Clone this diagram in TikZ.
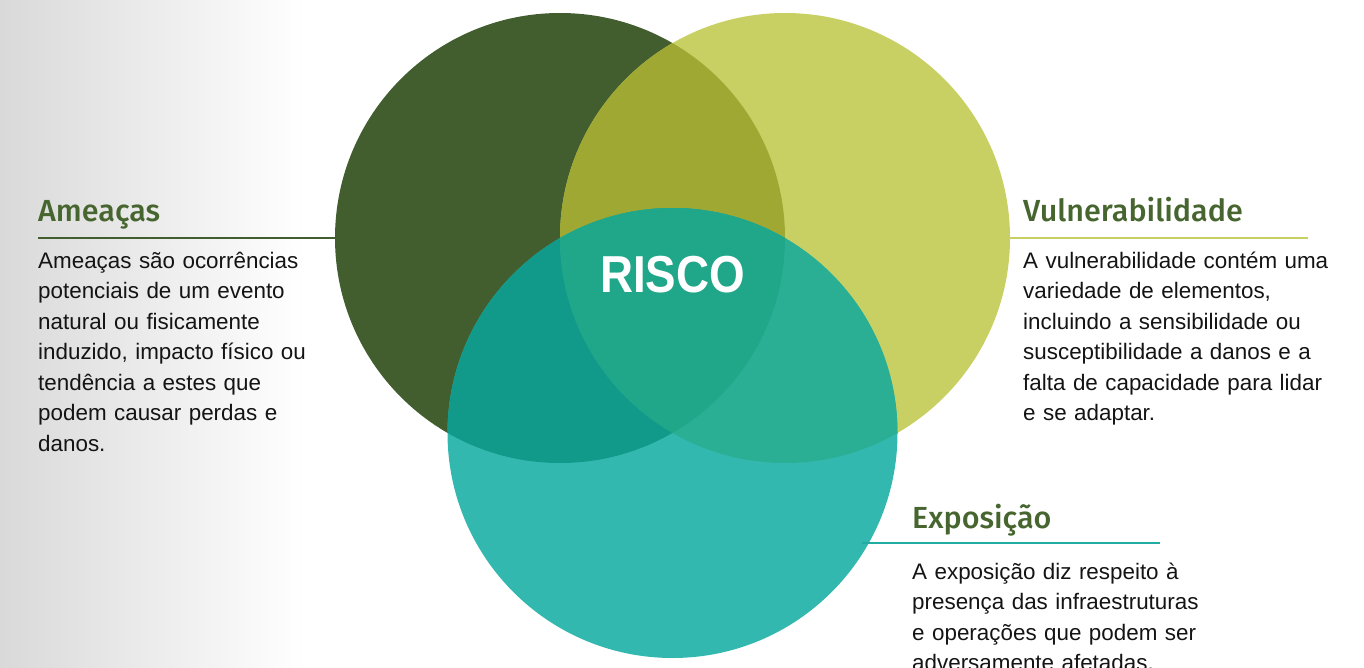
\documentclass[tikz,border=0pt]{standalone}
\usepackage{fontspec}
\setmainfont{Liberation Sans}
\newfontfamily\headfont{Fira Sans Medium}
\newfontfamily\riscofont{Liberation Sans}[FakeStretch=0.88]
\usetikzlibrary{positioning}

\definecolor{bggray}{HTML}{D9D9D9}
\definecolor{ameacagreen}{HTML}{425E2F}
\definecolor{vulnyellow}{HTML}{C9D063}
\definecolor{expteal}{HTML}{33B8B0}
\definecolor{avolive}{HTML}{A0A834}
\definecolor{aeteal}{HTML}{11998A}
\definecolor{veteal}{HTML}{2AAF94}
\definecolor{riscoteal}{HTML}{20A789}
\definecolor{headgreen}{HTML}{46652F}
\definecolor{bodyblack}{HTML}{141414}
\definecolor{expline}{HTML}{20ACA2}

\begin{document}
\begin{tikzpicture}[x=1pt,y=-1pt,
    set/.style={circle,minimum size=450pt,inner sep=0pt},
    title/.style={anchor=base west,inner sep=0pt,text=headgreen,
      font=\headfont\fontsize{30.5}{33}\selectfont},
    body/.style={anchor=base west,inner sep=0pt,align=left,text width=340pt,
      text=bodyblack,font=\fontsize{22.4}{30.5}\selectfont},
    rule/.style={line width=2.2pt}]

  % background
  \shade [left color=bggray,right color=white] (0,0) rectangle (305,668);
  \useasboundingbox (0,0) rectangle (1364,668);

  % the three sets
  \coordinate (c-ameaca) at (560,238);
  \coordinate (c-vuln)   at (785,238);
  \coordinate (c-exp)    at (672.5,433);
  \def\rad{225}

  \fill [ameacagreen] (c-ameaca) circle [radius=\rad];
  \fill [vulnyellow]  (c-vuln)   circle [radius=\rad];
  \fill [expteal]     (c-exp)    circle [radius=\rad];
  \begin{scope}
    \clip (c-ameaca) circle [radius=\rad];
    \fill [avolive] (c-vuln) circle [radius=\rad];
    \fill [aeteal]  (c-exp)  circle [radius=\rad];
  \end{scope}
  \begin{scope}
    \clip (c-vuln) circle [radius=\rad];
    \fill [veteal] (c-exp) circle [radius=\rad];
    \clip (c-ameaca) circle [radius=\rad];
    \fill [riscoteal] (c-exp) circle [radius=\rad];
  \end{scope}

  \node [set] (ameaca) at (c-ameaca) {};
  \node [set] (vuln)   at (c-vuln)   {};
  \node [set] (exp)    at (c-exp)    {};

  \node [text=white,font=\riscofont\bfseries\fontsize{52}{56}\selectfont] (risco) at (672.5,275) {RISCO};

  % Ameaças
  \node [title] (ameaca-title) at (38,222) {Ameaças};
  \coordinate (ameaca-rule) at (38,238);
  \draw [rule,ameacagreen] (ameaca-rule) -- (ameaca.west);
  \node [body] (ameaca-text) at (38,268) {Ameaças são ocorrências\\
    potenciais de um evento\\ natural ou fisicamente\\
    induzido, impacto físico ou\\ tendência a estes que\\
    podem causar perdas e\\ danos.};

  % Vulnerabilidade
  \node [title] (vuln-title) at (1023,222) {Vulnerabilidade};
  \coordinate (vuln-rule) at (1308,238);
  \draw [rule,vulnyellow] (vuln.east) -- (vuln-rule);
  \node [body] (vuln-text) at (1023,268) {A vulnerabilidade contém uma\\
    variedade de elementos,\\ incluindo a sensibilidade ou\\
    susceptibilidade a danos e a\\ falta de capacidade para lidar\\
    e se adaptar.};

  % Exposição
  \node [title] (exp-title) at (912,528) {Exposição};
  \coordinate (exp-start) at (862,543);
  \coordinate (exp-rule) at (1160,543);
  \draw [rule,expline] (exp-start) -- (exp-rule);
  \node [body] (exp-text) at (912,579) {A exposição diz respeito à\\
    presença das infraestruturas\\ e operações que podem ser\\
    adversamente afetadas.};

\end{tikzpicture}
\end{document}
